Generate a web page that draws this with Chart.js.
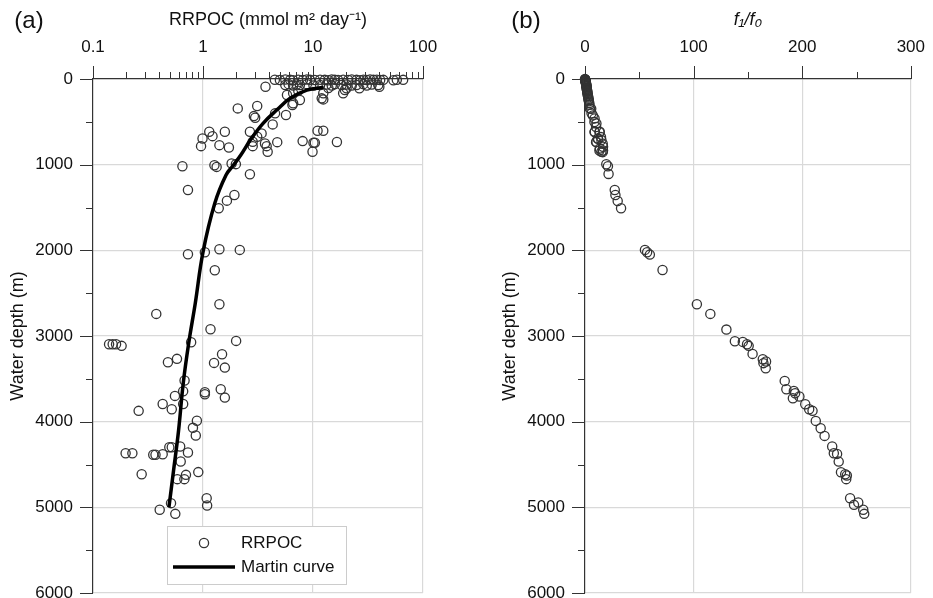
<!DOCTYPE html>
<html>
<head>
<meta charset="utf-8">
<script src="https://cdn.jsdelivr.net/npm/chart.js@4.4.0/dist/chart.umd.min.js"></script>
<style>
  html, body { margin: 0; padding: 0; background: #fff; }
  #wrap { position: relative; width: 933px; height: 598px; overflow: hidden; }
  canvas { position: absolute; top: 0; }
  #chartA { left: 0; }
  #chartB { left: 492px; }
</style>
</head>
<body>
<div id="wrap">
  <canvas id="chartA" width="492" height="620"></canvas>
  <canvas id="chartB" width="441" height="620"></canvas>
</div>
<script>
// ---- data ----

// panel (a): RRPOC (mmol m2 day-1) vs water depth (m)
const rrpocX = [
  4.5, 5.0, 5.6, 6.2, 6.6, 7.35, 8.1, 8.8, 9.4, 10.4, 11.6, 12.8, 13.8, 14.8, 15.8, 16.9,
  18.8, 20.9, 22.5, 24.9, 26.8, 28.7, 30.8, 33.0, 35.4, 38.0, 40.8, 43.6, 53.8, 57.8, 66.0,
  5.6, 6.0, 6.6, 7.1, 7.6, 8.8, 10.1, 11.6, 13.3, 14.8, 15.8, 18.2, 20.2, 22.5, 24.9, 28.7,
  30.8, 34.2, 39.2,
  3.7, 5.8, 6.6, 7.35, 6.6, 7.6, 12.0, 12.4, 18.8, 19.5, 20.2, 26.4, 40.1, 13.8, 12.4, 6.5,
  2.07, 3.11, 2.9, 2.98, 4.52, 5.68, 4.3, 1.14, 1.58, 0.99, 1.22, 0.96, 1.41, 1.72, 2.67, 3.41,
  3.11, 2.83, 2.83, 3.66, 3.79, 3.87, 4.73, 8.05, 10.1, 10.4, 9.9, 11.0, 12.4, 16.5,
  0.65, 1.27, 1.33, 1.82, 1.99, 2.67, 0.73, 1.93, 1.65, 1.39,
  0.73, 1.04, 1.41, 2.16, 1.28, 1.41, 0.376, 1.17, 2.0, 0.78, 0.14, 0.151, 0.162, 0.182,
  1.49, 0.58, 0.48, 1.26, 1.58, 0.68, 0.66, 1.04, 1.04, 1.45, 1.58, 0.556, 0.43, 0.66, 0.52,
  0.26, 0.88, 0.81, 0.86, 0.198, 0.228, 0.353, 0.37, 0.43, 0.494, 0.52, 0.62, 0.73, 0.627,
  0.277, 0.906, 0.70, 0.677, 0.584, 0.512, 0.404, 0.56, 1.08, 1.09
];
const rrpocDepth = [
  8, 12, 6, 10, 14, 8, 12, 6, 10, 12, 8, 10, 14, 6, 10, 12,
  8, 12, 6, 10, 14, 8, 12, 6, 10, 8, 12, 10, 14, 8, 10,
  70, 60, 75, 65, 70, 60, 75, 70, 65, 75, 60, 70, 65, 75, 70, 60,
  75, 65, 70,
  90, 187, 167, 137, 284, 245, 226, 167, 167, 128, 109, 109, 90, 105, 238, 304,
  343, 316, 433, 452, 401, 421, 530, 616, 616, 694, 667, 784, 772, 799, 616, 635,
  675, 733, 784, 752, 784, 850, 737, 725, 745, 745, 850, 604, 604, 735,
  1018, 1006, 1026, 986, 994, 1111, 1295, 1354, 1420, 1509,
  2046, 2022, 1987, 1995, 2232, 2629, 2742, 2921, 3057, 3073, 3096, 3096, 3096, 3115,
  3213, 3267, 3306, 3314, 3369, 3520, 3645, 3656, 3680, 3621, 3719, 3699, 3793, 3793, 3855,
  3874, 3990, 4072, 4162, 4368, 4368, 4387, 4387, 4380, 4298, 4298, 4290, 4360, 4465,
  4613, 4589, 4621, 4671, 4671, 4951, 5029, 5076, 4893, 4979
];

// Martin curve
const martinX = [12.4, 8.8, 6.2, 4.7, 3.5, 2.7, 2.2, 1.88, 1.62, 1.28, 1.0, 0.85, 0.74, 0.66, 0.6, 0.54, 0.49];
const martinDepth = [100, 130, 225, 360, 520, 710, 890, 1010, 1120, 1450, 2020, 2620, 3090, 3560, 4100, 4570, 5000];

// panel (b): f1/f0 vs water depth (m)
const ratioX = [
  0, 0.1, 0.2, 0.3, 0.2, 0.4, 0.5, 0.4, 0.6, 0.7, 0.8, 0.9, 1.0, 1.0, 1.1, 1.2, 1.3, 1.4,
  1.5, 1.6, 1.7, 1.9, 2.0, 2.1, 2.3, 2.4, 2.6, 2.8, 3.0, 3.2, 3.4, 3.6, 3.9, 4.1,
  4.5, 5.7, 6.0, 7.2, 8.8, 8.7, 10.5, 10.2, 9.0, 13.6, 8.8, 13.3, 12.0, 11.8, 14.7, 15.1,
  10.5, 10.2, 16.3, 16.6, 13.6, 13.3, 16.6, 15.1, 16.3,
  19.6, 21.1, 21.7, 27.4, 28.0, 30.1, 33.2, 55.2, 57.2, 59.7, 71.4, 103, 115.4, 130.2,
  138, 145.3, 149.2, 150.7, 154.3, 163.7, 166.7, 164.3, 166.4, 183.9, 185.4, 192.3, 193.5,
  191.4, 197.4, 202.8, 206.4, 209.5, 212.5, 217, 220.6, 227.6, 229.1, 232.1, 233.6, 235.7,
  239.6, 241.1, 240.5, 244.1, 247.7, 251.6, 256.2, 257.1
];
const ratioDepth = [
  0, 5, 8, 10, 12, 15, 20, 25, 30, 35, 40, 50, 55, 60, 70, 75, 80, 90,
  100, 110, 120, 130, 140, 150, 165, 175, 190, 200, 215, 230, 245, 260, 280, 300,
  343, 347, 401, 425, 460, 503, 518, 561, 616, 616, 620, 620, 694, 698, 678, 713,
  733, 737, 756, 791, 811, 834, 835, 850, 854,
  996, 1018, 1108, 1295, 1354, 1424, 1509, 1995, 2022, 2050, 2229, 2629, 2742, 2925,
  3061, 3069, 3096, 3115, 3209, 3271, 3298, 3317, 3376, 3524, 3621, 3641, 3668,
  3726, 3707, 3797, 3855, 3874, 3991, 4076, 4166, 4290, 4368, 4376, 4466, 4590,
  4613, 4629, 4671, 4893, 4971, 4944, 5029, 5076
];

// axis ticks
const depthTicks = [0, 500, 1000, 1500, 2000, 2500, 3000, 3500, 4000, 4500, 5000, 5500, 6000];
const depthLabels = [0, 1000, 2000, 3000, 4000, 5000, 6000];
const logTicks = [0.1, 0.2, 0.3, 0.4, 0.5, 0.6, 0.7, 0.8, 0.9, 1, 2, 3, 4, 5, 6, 7, 8, 9,
  10, 20, 30, 40, 50, 60, 70, 80, 90, 100];
const logLabels = [0.1, 1, 10, 100];
const ratioTicks = [0, 50, 100, 150, 200, 250, 300];
const ratioLabels = [0, 100, 200, 300];

const FONT = "'Liberation Sans', Arial, sans-serif";
const GRID = '#d9d9d9';
const INK = '#333';

const toPoints = (xs, ys) => xs.map((x, i) => ({ x: x, y: ys[i] }));

// short/long tick marks drawn by hand (Chart.js has one tickLength per axis)
const tickMarks = {
  id: 'tickMarks',
  afterDraw(chart) {
    const ctx = chart.ctx;
    const xs = chart.scales.x, ys = chart.scales.y;
    ctx.save();
    ctx.strokeStyle = INK;
    ctx.lineWidth = 1;
    xs.ticks.forEach(t => {
      const px = Math.round(xs.getPixelForValue(t.value)) + 0.5;
      const len = t.label !== '' ? 13 : 7;
      ctx.beginPath();
      ctx.moveTo(px, xs.bottom);
      ctx.lineTo(px, xs.bottom - len);
      ctx.stroke();
    });
    ys.ticks.forEach(t => {
      const py = Math.round(ys.getPixelForValue(t.value)) + 0.5;
      const len = t.label !== '' ? 13 : 7;
      ctx.beginPath();
      ctx.moveTo(ys.right, py);
      ctx.lineTo(ys.right - len, py);
      ctx.stroke();
    });
    ctx.restore();
  }
};

// "(a)" / "(b)"
const panelLabel = {
  id: 'panelLabel',
  afterDraw(chart, args, opts) {
    const ctx = chart.ctx;
    ctx.save();
    ctx.font = '24px ' + FONT;
    ctx.fillStyle = '#111';
    ctx.textAlign = 'center';
    ctx.textBaseline = 'middle';
    ctx.fillText(opts.text, opts.x, opts.y);
    ctx.restore();
  }
};

// boxed legend inside the plot of panel (a)
const boxLegend = {
  id: 'boxLegend',
  afterDraw(chart, args, opts) {
    if (!opts.show) return;
    const ctx = chart.ctx;
    const a = chart.chartArea;
    const left = a.left + 74, top = a.top + 447;
    ctx.save();
    ctx.fillStyle = '#fff';
    ctx.strokeStyle = '#ccc';
    ctx.lineWidth = 1;
    ctx.fillRect(left, top, 179, 58);
    ctx.strokeRect(left + 0.5, top + 0.5, 179, 58);

    ctx.strokeStyle = INK;
    ctx.lineWidth = 1.3;
    ctx.beginPath();
    ctx.arc(left + 37, top + 17, 4.6, 0, Math.PI * 2);
    ctx.stroke();

    ctx.strokeStyle = '#000';
    ctx.lineWidth = 3.5;
    ctx.beginPath();
    ctx.moveTo(left + 6, top + 41);
    ctx.lineTo(left + 68, top + 41);
    ctx.stroke();

    ctx.fillStyle = '#111';
    ctx.font = '17px ' + FONT;
    ctx.textBaseline = 'middle';
    ctx.fillText('RRPOC', left + 74, top + 17);
    ctx.fillText('Martin curve', left + 74, top + 41);
    ctx.restore();
  }
};

function gridColor(c) {
  return c.index > 0 && c.tick && c.tick.label !== '' ? GRID : 'transparent';
}

function depthAxis() {
  return {
    type: 'linear',
    position: 'left',
    reverse: true,
    min: 0,
    max: 6000,
    afterFit: s => { s.width = 93; },
    afterBuildTicks: s => { s.ticks = depthTicks.map(v => ({ value: v })); },
    ticks: {
      autoSkip: false,
      padding: 7,
      color: '#111',
      font: { family: FONT, size: 17 },
      callback: v => depthLabels.includes(v) ? String(v) : ''
    },
    grid: { color: gridColor, tickColor: 'transparent', tickLength: 13, lineWidth: 1.2 },
    border: { color: INK, width: 1.2 },
    title: {
      display: true,
      text: 'Water depth (m)',
      color: '#111',
      padding: { top: 7, bottom: 0 },
      font: { family: FONT, size: 18 }
    }
  };
}

function topAxis(base, title, italic) {
  return Object.assign({
    position: 'top',
    afterFit: s => { s.height = 79; },
    ticks: {
      autoSkip: false,
      maxRotation: 0,
      padding: 8,
      color: '#111',
      font: { family: FONT, size: 17 }
    },
    grid: { color: gridColor, tickColor: 'transparent', tickLength: 13, lineWidth: 1.2 },
    border: { color: INK, width: 1.2 },
    title: {
      display: true,
      text: title,
      color: '#111',
      padding: { top: 9, bottom: 0 },
      font: { family: FONT, size: 18, style: italic ? 'italic' : 'normal' }
    }
  }, base);
}

// leading spaces nudge the centred title a little to the right, as in the original
const xLog = topAxis({
  type: 'logarithmic',
  min: 0.1,
  max: 100,
  afterBuildTicks: s => { s.ticks = logTicks.map(v => ({ value: v })); }
}, '    RRPOC (mmol m\u00B2 day\u207B\u00B9)', false);
xLog.ticks.callback = v => logLabels.includes(v) ? String(v) : '';

const xRatio = topAxis({
  type: 'linear',
  min: 0,
  max: 300,
  afterBuildTicks: s => { s.ticks = ratioTicks.map(v => ({ value: v })); }
}, 'f\u2081/f\u2080', true);
xRatio.ticks.callback = v => ratioLabels.includes(v) ? String(v) : '';

const pointStyle = {
  pointRadius: 4.6,
  pointHoverRadius: 4.6,
  pointBorderWidth: 1.3,
  borderColor: INK,
  backgroundColor: 'transparent',
  showLine: false,
  clip: false
};

// chart area: top 79, bottom 593 (canvas is taller and clipped at 598 like the original)
const pad = (right) => ({ left: 0, top: 0, right: right, bottom: 27 });

new Chart(document.getElementById('chartA'), {
  type: 'scatter',
  data: {
    datasets: [
      {
        label: 'Martin curve',
        data: toPoints(martinX, martinDepth),
        showLine: true,
        borderColor: '#000',
        borderWidth: 3.5,
        pointRadius: 0,
        tension: 0.4,
        order: 0
      },
      Object.assign({ label: 'RRPOC', data: toPoints(rrpocX, rrpocDepth), order: 1 }, pointStyle)
    ]
  },
  options: {
    responsive: false,
    animation: false,
    layout: { padding: pad(69) },
    scales: { x: xLog, y: depthAxis() },
    plugins: {
      legend: { display: false },
      tooltip: { enabled: false },
      panelLabel: { text: '(a)', x: 29, y: 21 },
      boxLegend: { show: true }
    }
  },
  plugins: [tickMarks, panelLabel, boxLegend]
});

new Chart(document.getElementById('chartB'), {
  type: 'scatter',
  data: {
    datasets: [
      Object.assign({ label: 'f1/f0', data: toPoints(ratioX, ratioDepth) }, pointStyle)
    ]
  },
  options: {
    responsive: false,
    animation: false,
    layout: { padding: pad(16) },
    scales: { x: xRatio, y: depthAxis() },
    plugins: {
      legend: { display: false },
      tooltip: { enabled: false },
      panelLabel: { text: '(b)', x: 34, y: 21 },
      boxLegend: { show: false }
    }
  },
  plugins: [tickMarks, panelLabel, boxLegend]
});
</script>
</body>
</html>
